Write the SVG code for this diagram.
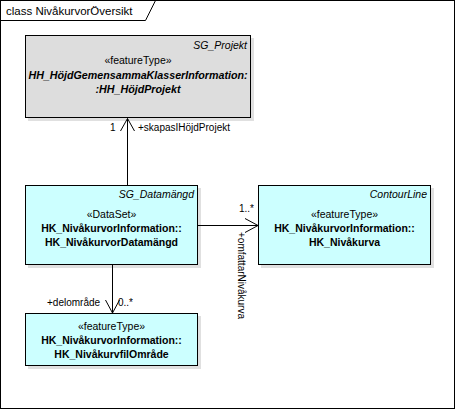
<svg xmlns="http://www.w3.org/2000/svg" width="456" height="410" viewBox="0 0 456 410">
<style>
text{font-family:"Liberation Sans",Arial,sans-serif;fill:#000}
.t{font-size:11.5px}
.s{font-size:10.5px;text-anchor:middle}
.n{font-size:10.5px;font-weight:bold;text-anchor:middle}
.ni{font-size:10.7px;font-weight:bold;font-style:italic;text-anchor:middle}
.p{font-size:10.5px;font-style:italic;text-anchor:end}
.l{font-size:10px}
.box{stroke:#000;stroke-width:1}
.sh{fill:#000;opacity:0.12}
.c{fill:none;stroke:#000;stroke-width:1}
</style>
<rect x="0" y="0" width="456" height="410" fill="#fff"/>
<g id="frame">
<rect x="0.5" y="0.5" width="454" height="408" fill="none" stroke="#000"/>
<path d="M0.5 20.5 H145.5 L155.5 0.5" fill="none" stroke="#000"/>
<text class="t" x="6" y="15">class NivåkurvorÖversikt</text>
</g>
<g id="connectors">
<path class="c" d="M127.5 185 V118.5"/>
<path class="c" d="M120.5 131 L127.5 118.5 L134.5 131"/>
<text class="l" x="110" y="131">1</text>
<text class="l" x="138" y="131">+skapasIHöjdProjekt</text>
<path class="c" d="M198 225.5 H258"/>
<path class="c" d="M245 218.5 L258 225.5 L245 232.5"/>
<text class="l" x="239" y="212">1..*</text>
<text class="l" transform="translate(238,232) rotate(90)">+omfattarNivåkurva</text>
<path class="c" d="M112.5 265 V313"/>
<path class="c" d="M105.5 300 L112.5 313 L119.5 300"/>
<text class="l" x="47" y="306">+delområde</text>
<text class="l" x="118" y="306">0..*</text>
</g>
<g id="SG_Projekt">
<rect class="sh" x="28" y="38" width="226" height="83"/>
<rect class="box" x="25.5" y="35.5" width="225" height="82" fill="#DDDDDD"/>
<text class="p" x="247" y="49">SG_Projekt</text>
<text class="s" x="138" y="64">«featureType»</text>
<text class="ni" x="138" y="79">HH_HöjdGemensammaKlasserInformation:</text>
<text class="ni" x="138" y="93">:HH_HöjdProjekt</text>
</g>
<g id="SG_Datamangd">
<rect class="sh" x="28" y="188" width="173" height="80"/>
<rect class="box" x="25.5" y="185.5" width="172" height="79" fill="#CCFFFF"/>
<text class="p" x="194" y="198">SG_Datamängd</text>
<text class="s" x="111.5" y="218">«DataSet»</text>
<text class="n" x="111.5" y="232">HK_NivåkurvorInformation::</text>
<text class="n" x="111.5" y="246">HK_NivåkurvorDatamängd</text>
</g>
<g id="ContourLine">
<rect class="sh" x="261" y="188" width="173" height="80"/>
<rect class="box" x="258.5" y="185.5" width="172" height="79" fill="#CCFFFF"/>
<text class="p" x="427" y="198">ContourLine</text>
<text class="s" x="344.5" y="218">«featureType»</text>
<text class="n" x="344.5" y="232">HK_NivåkurvorInformation::</text>
<text class="n" x="344.5" y="246">HK_Nivåkurva</text>
</g>
<g id="HK_Nivakurvfilomrade">
<rect class="sh" x="28" y="316" width="173" height="53"/>
<rect class="box" x="25.5" y="313.5" width="172" height="52" fill="#CCFFFF"/>
<text class="s" x="111.5" y="330">«featureType»</text>
<text class="n" x="111.5" y="344">HK_NivåkurvorInformation::</text>
<text class="n" x="111.5" y="358">HK_NivåkurvfilOmråde</text>
</g>
</svg>
